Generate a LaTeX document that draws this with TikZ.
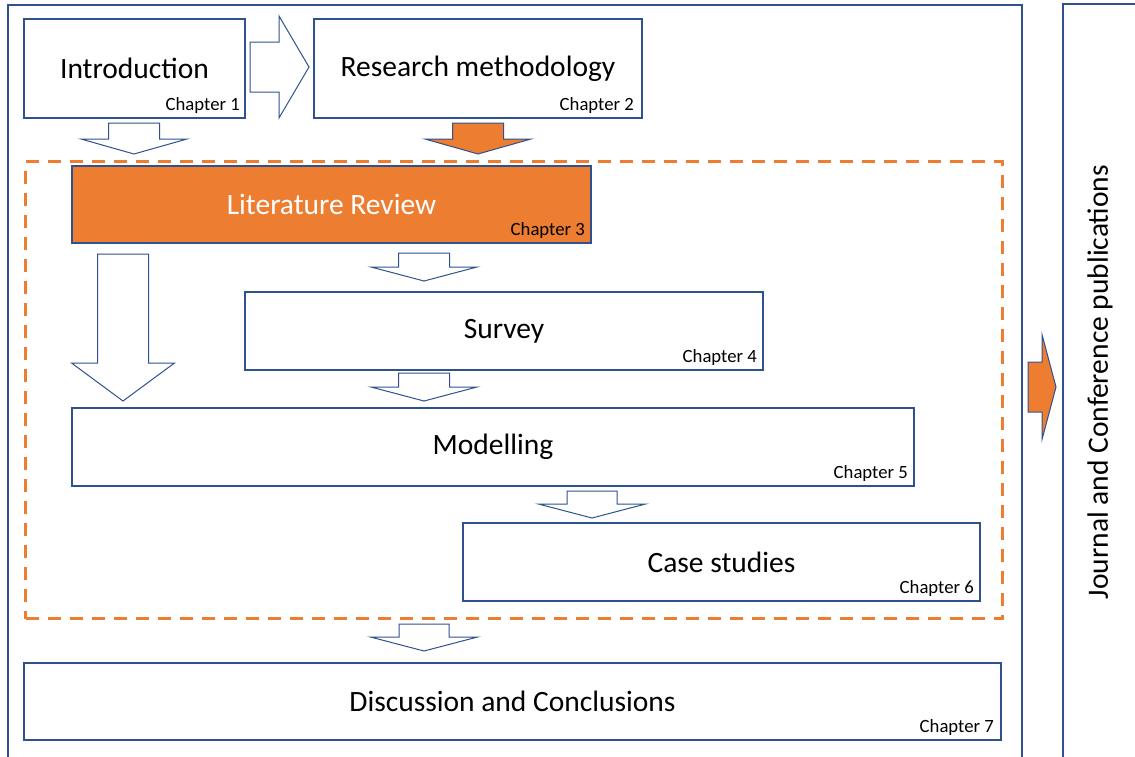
\documentclass[tikz,border=0pt]{standalone}
\usepackage{fontspec}
\setmainfont{Carlito}
\definecolor{frameblue}{RGB}{47,82,143}
\definecolor{accent}{RGB}{237,125,49}

% block arrow pointing down: style, centre x, top y, shaft half width, shaft end y, head half width, tip y
\newcommand\blockdown[7]{%
  \draw[#1] (#2-#4,#3) -- (#2+#4,#3) -- (#2+#4,#5) -- (#2+#6,#5) -- (#2,#7)
    -- (#2-#6,#5) -- (#2-#4,#5) -- cycle;}
% block arrow pointing right: style, centre y, left x, shaft half height, shaft end x, head half height, tip x
\newcommand\blockright[7]{%
  \draw[#1] (#3,#2-#4) -- (#5,#2-#4) -- (#5,#2-#6) -- (#7,#2) -- (#5,#2+#6)
    -- (#5,#2+#4) -- (#3,#2+#4) -- cycle;}

\begin{document}
\begin{tikzpicture}[x=1pt,y=-1pt,
  box/.style={draw=frameblue,line width=1.2pt,fill=white,anchor=north west,
    inner sep=0pt,outer sep=0pt},
  title/.style={font=\fontsize{29.5}{34}\selectfont,inner sep=0pt},
  chap/.style={font=\fontsize{18.7}{22}\selectfont,anchor=south east,inner sep=0pt},
  hollow/.style={draw=frameblue,line width=1pt,fill=white,line join=miter},
  filled/.style={draw=frameblue,line width=1pt,fill=accent,line join=miter},
]
\clip (0,0) rectangle (1135,756);

% outer frames
\node[box,minimum width=1014pt,minimum height=760pt] (thesis) at (8,5) {};
\node[box,minimum width=90pt,minimum height=760pt] (pubs) at (1063,4) {};
\node[title,rotate=90] (pubs-t) at (1100,382) {Journal and Conference publications};

% dashed frame around the core chapters
\node[draw=accent,line width=3pt,dash pattern=on 13pt off 9pt,anchor=north west,
  inner sep=0pt,minimum width=977pt,minimum height=457pt] (core) at (24,160) {};

% chapter boxes
\node[box,minimum width=221pt,minimum height=99pt] (intro) at (24,19) {};
\node[title] (intro-t) at (intro.center) {Introduction};
\node[chap] (intro-c) at ([shift={(-5,-4)}]intro.south east) {Chapter 1};

\node[box,minimum width=328pt,minimum height=99pt] (method) at (314,19) {};
\node[title] (method-t) at (method.center) {Research methodology};
\node[chap] (method-c) at ([shift={(-8,-4)}]method.south east) {Chapter 2};

\node[box,fill=accent,minimum width=519pt,minimum height=77pt] (lit) at (72,166) {};
\node[title,text=white] (lit-t) at (lit.center) {Literature Review};
\node[chap] (lit-c) at ([shift={(-6,-4)}]lit.south east) {Chapter 3};

\node[box,minimum width=518pt,minimum height=78pt] (survey) at (245,292) {};
\node[title] (survey-t) at (survey.center) {Survey};
\node[chap] (survey-c) at ([shift={(-6,-4)}]survey.south east) {Chapter 4};

\node[box,minimum width=842pt,minimum height=78pt] (model) at (72,408) {};
\node[title] (model-t) at (model.center) {Modelling};
\node[chap] (model-c) at ([shift={(-6,-4)}]model.south east) {Chapter 5};

\node[box,minimum width=517pt,minimum height=78pt] (cases) at (463,523) {};
\node[title] (cases-t) at (cases.center) {Case studies};
\node[chap] (cases-c) at ([shift={(-6,-4)}]cases.south east) {Chapter 6};

\node[box,minimum width=977pt,minimum height=77pt] (discuss) at (24,663) {};
\node[title] (discuss-t) at (discuss.center) {Discussion and Conclusions};
\node[chap] (discuss-c) at ([shift={(-7,-4)}]discuss.south east) {Chapter 7};

% block arrows between chapters
\blockright{hollow}{67}{250}{25}{279}{51}{309}
\blockdown{hollow}{134}{123}{25.5}{139}{53}{154}
\blockdown{filled}{478}{123}{25.5}{139}{53}{154}
\blockdown{hollow}{424}{253}{25.5}{267}{53}{281}
\blockdown{hollow}{424}{373}{25.5}{387}{53}{401}
\blockdown{hollow}{123}{254}{25.5}{363}{51.5}{401}
\blockdown{hollow}{592}{491}{25}{504}{53.5}{518}
\blockdown{hollow}{424}{624}{25}{637}{53.5}{651}
\blockright{filled}{387}{1028}{25}{1042}{52.5}{1056}
\end{tikzpicture}
\end{document}
